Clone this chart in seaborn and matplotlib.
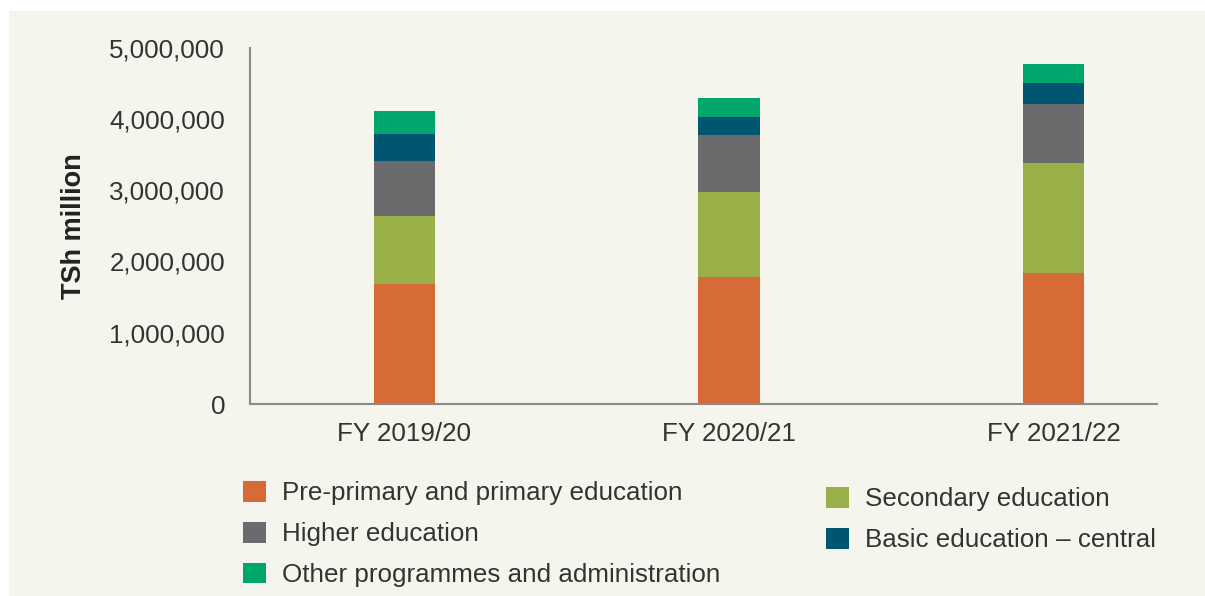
import matplotlib
matplotlib.use("Agg")
import matplotlib.pyplot as plt
from matplotlib.patches import Rectangle, Patch
from matplotlib.ticker import FuncFormatter
import seaborn as sns
import pandas as pd
import numpy as np

years = ["FY 2019/20", "FY 2020/21", "FY 2021/22"]
series_names = [
    "Pre-primary and primary education",
    "Secondary education",
    "Higher education",
    "Basic education \u2013 central",
    "Other programmes and administration",
]
primary = [1688000, 1782000, 1842000]
secondary = [950000, 1193000, 1539000]
higher = [772000, 799000, 828000]
basic_central = [383000, 253000, 295000]
other = [318000, 267000, 267000]
yticks = [0, 1000000, 2000000, 3000000, 4000000, 5000000]

colors = ["#D76B37", "#99AF48", "#6B6B6E", "#005670", "#00A76C"]
bg = "#F5F5EE"

sns.set_style("white")
plt.rcParams["font.family"] = ["Liberation Sans", "DejaVu Sans"]

W, H = 1205, 596
fig = plt.figure(figsize=(W / 100, H / 100), dpi=100, facecolor="white")
fig.patches.append(Rectangle((9 / W, 0), 1 - 9 / W, 1 - 11 / H, transform=fig.transFigure,
                             facecolor=bg, edgecolor="none", zorder=-10))

ax = fig.add_axes([250 / W, 1 - 404 / H, (1157 - 250) / W, (404 - 47.7) / H])
ax.set_facecolor(bg)

series = [primary, secondary, higher, basic_central, other]
cum = np.cumsum(np.array(series, dtype=float), axis=0)
df = pd.DataFrame({"year": years})
for i in range(len(series) - 1, -1, -1):
    df["val"] = cum[i]
    sns.barplot(data=df, x="year", y="val", color=colors[i], width=0.19,
                saturation=1, ax=ax, linewidth=0, edgecolor="none")

ax.set_xlim(-0.476, 2.319)
ax.set_ylim(0, 5000000)
ax.set_yticks(yticks)
ax.yaxis.set_major_formatter(FuncFormatter(lambda v, p: f"{int(v):,}"))
ax.set_xlabel("")
ax.set_ylabel("TSh million", fontsize=19.5, fontweight="bold", color="#222222", labelpad=16)
for s in ["top", "right"]:
    ax.spines[s].set_visible(False)
for s in ["left", "bottom"]:
    ax.spines[s].set_color("#8a8a8a")
    ax.spines[s].set_linewidth(1.5)
ax.tick_params(axis="y", length=7, width=1.2, color="#8a8a8a", pad=11, labelsize=18.7, labelcolor="#333333")
ax.tick_params(axis="x", length=0, pad=13, labelsize=18.7, labelcolor="#333333")

handles = [Patch(facecolor=c, edgecolor="none") for c in colors]
leg_kw = dict(frameon=False, fontsize=18.7, handlelength=0.88, handleheight=0.86,
              handletextpad=0.62, labelspacing=0.63, borderpad=0, borderaxespad=0,
              labelcolor="#333333")
l1 = fig.legend([handles[0], handles[2], handles[4]],
                [series_names[0], series_names[2], series_names[4]],
                loc="upper left", bbox_to_anchor=(243 / W, 1 - 481 / H), **leg_kw)
l2 = fig.legend([handles[1], handles[3]], [series_names[1], series_names[3]],
                loc="upper left", bbox_to_anchor=(826 / W, 1 - 487 / H), **leg_kw)

fig.savefig("out.png", dpi=100, facecolor="white")
